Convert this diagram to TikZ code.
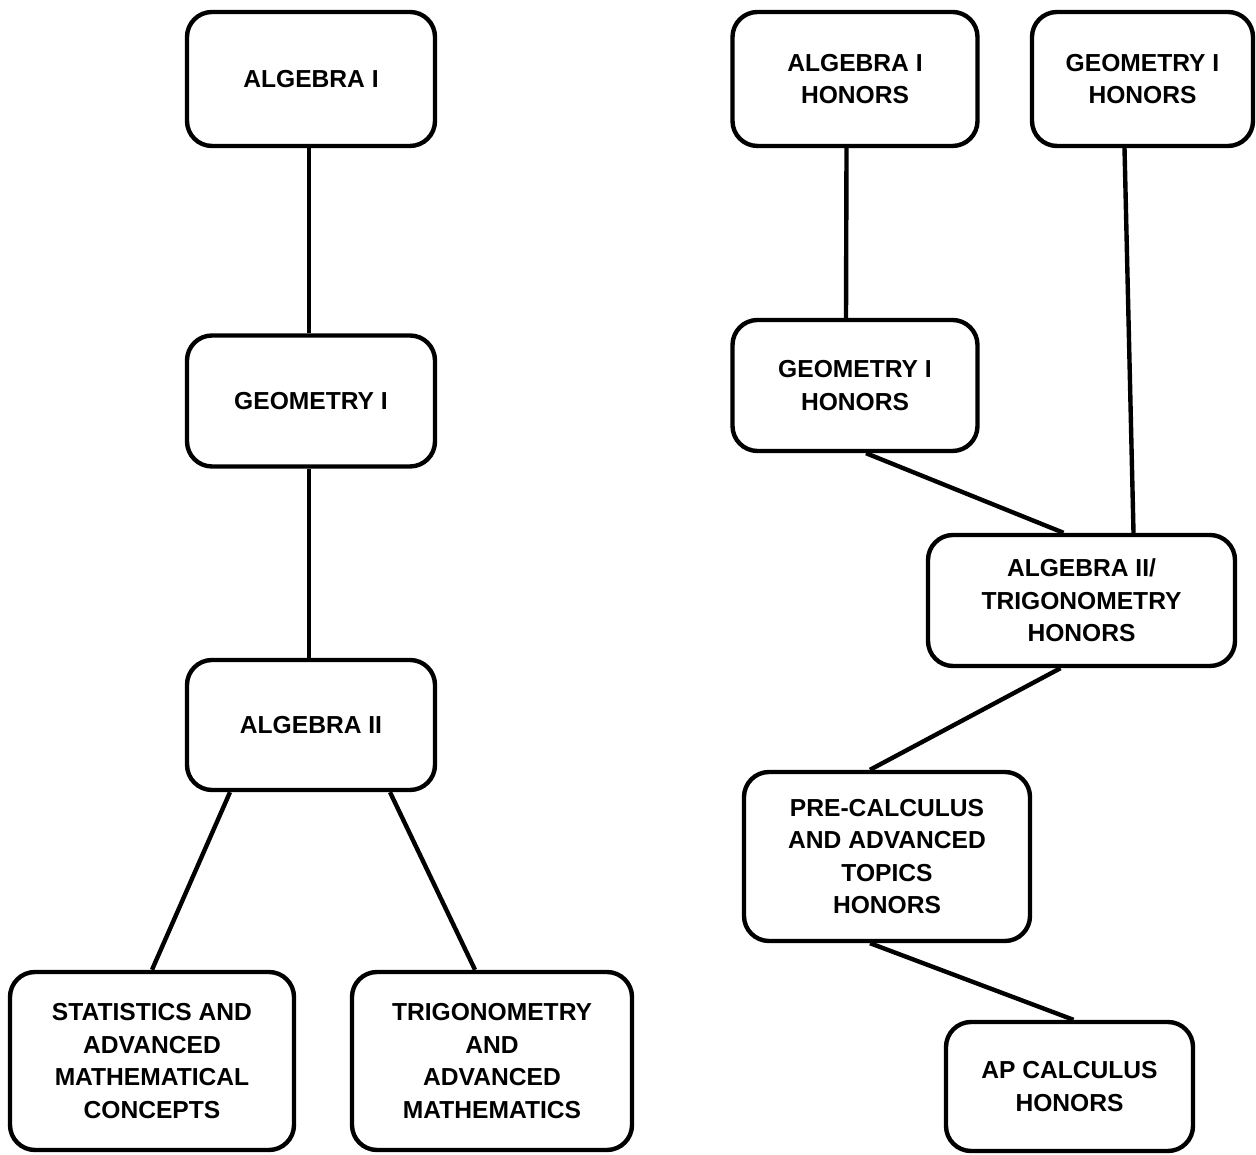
\documentclass[tikz,border=0pt]{standalone}
\usepackage{fontspec}
\setmainfont{Liberation Sans}
\usepackage{tikz}
\definecolor{coursefill}{rgb}{1.00,1.00,1.00}
\tikzstyle{course}=[rectangle, draw, fill=coursefill, line width=2.5pt, rounded corners=0.5cm, align=center, font=\bfseries\fontsize{14}{18.5}\selectfont, inner sep=0pt]
\tikzstyle{link}=[draw, line width=2.5pt]
\newcommand{\course}[4]{
	\node[course, #4] (#1) at (#2) {#3};}

\begin{document}
\begin{tikzpicture}
\useasboundingbox (0cm,0cm) rectangle (25.12cm,23.1cm);
% standard track
\course{alg}{6.22cm,21.52cm}{ALGEBRA I}{minimum width=4.96cm, minimum height=2.68cm}
\course{geo}{6.22cm,15.08cm}{GEOMETRY I}{minimum width=4.96cm, minimum height=2.62cm}
\course{algtwo}{6.22cm,8.6cm}{ALGEBRA II}{minimum width=4.96cm, minimum height=2.6cm}
\course{stats}{3.04cm,1.88cm}{STATISTICS AND\\ADVANCED\\MATHEMATICAL\\CONCEPTS}{minimum width=5.68cm, minimum height=3.56cm}
\course{trig}{9.84cm,1.88cm}{TRIGONOMETRY\\AND\\ADVANCED\\MATHEMATICS}{minimum width=5.6cm, minimum height=3.56cm}
% honors track
\course{algh}{17.1cm,21.52cm}{ALGEBRA I\\HONORS}{minimum width=4.9cm, minimum height=2.68cm}
\course{geoh}{22.85cm,21.52cm}{GEOMETRY I\\HONORS}{minimum width=4.42cm, minimum height=2.68cm}
\course{geohtwo}{17.1cm,15.39cm}{GEOMETRY I\\HONORS}{minimum width=4.9cm, minimum height=2.62cm}
\course{algtrigh}{21.63cm,11.09cm}{ALGEBRA II/\\TRIGONOMETRY\\HONORS}{minimum width=6.14cm, minimum height=2.62cm}
\course{precalc}{17.74cm,5.97cm}{PRE-CALCULUS\\AND ADVANCED\\TOPICS\\HONORS}{minimum width=5.72cm, minimum height=3.38cm}
\course{apcalc}{21.39cm,1.37cm}{AP CALCULUS\\HONORS}{minimum width=4.94cm, minimum height=2.58cm}
\path[link] ([xshift=-0.04cm]alg.south) -- ([xshift=-0.04cm]geo.north);
\path[link] ([xshift=-0.04cm]geo.south) -- ([xshift=-0.04cm]algtwo.north);
\path[link] ([xshift=-1.62cm]algtwo.south) -- (stats.north);
\path[link] ([xshift=1.58cm]algtwo.south) -- ([xshift=-0.34cm]trig.north);
\path[link] ([xshift=-0.17cm]algh.south) -- ([xshift=-0.18cm]geohtwo.north);
\path[link] ([xshift=-0.36cm]geoh.south) -- ([xshift=1.04cm]algtrigh.north);
\path[link] ([xshift=0.22cm]geohtwo.south) -- ([xshift=-0.36cm]algtrigh.north);
\path[link] ([xshift=-0.42cm]algtrigh.south) -- ([xshift=-0.34cm]precalc.north);
\path[link] ([xshift=-0.34cm]precalc.south) -- ([xshift=0.08cm]apcalc.north);
\end{tikzpicture}
\end{document}
